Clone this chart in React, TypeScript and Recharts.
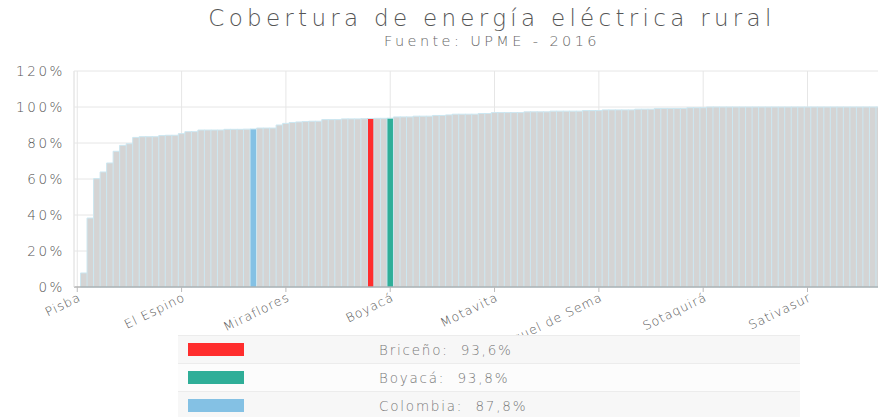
import { BarChart, Bar, Cell, XAxis, YAxis, CartesianGrid } from "recharts";

// Cobertura rural por municipio (%), ordenada de menor a mayor; incluye Boyacá y Colombia
const COVERAGE = [
  0, 7.8, 38.3, 60.2, 63.9, 68.9, 75.4, 78.7, 79.6, 83.1,
  83.5, 83.5, 83.5, 84.1, 84.3, 84.3, 85.2, 86.3, 86.3, 87.2,
  87.2, 87.2, 87.2, 87.6, 87.6, 87.6, 87.7, 87.8, 88.3, 88.3,
  88.3, 90.0, 90.9, 91.4, 91.7, 91.9, 92.1, 92.1, 93.0, 93.0,
  93.0, 93.4, 93.4, 93.4, 93.5, 93.6, 93.7, 93.7, 93.8, 94.5,
  94.5, 94.5, 94.9, 94.9, 94.9, 95.3, 95.3, 95.6, 96.0, 96.0,
  96.0, 96.0, 96.4, 96.4, 96.9, 96.9, 96.9, 96.9, 96.9, 97.3,
  97.3, 97.3, 97.3, 97.7, 97.7, 97.7, 97.7, 97.7, 98.0, 98.0,
  98.0, 98.4, 98.4, 98.4, 98.4, 98.4, 98.8, 98.8, 98.8, 99.2,
  99.2, 99.2, 99.2, 99.2, 99.6, 99.6, 99.6, 100, 100, 100,
  100, 100, 100, 100, 100, 100, 100, 100, 100, 100,
  100, 100, 100, 100, 100, 100, 100, 100, 100, 100,
  100, 100, 100, 100, 100,
];

// etiquetas visibles, una cada 16 categorías
const TICK_NAMES = [
  "Pisba",
  "El Espino",
  "Miraflores",
  "Boyacá",
  "Motavita",
  "San Miguel de Sema",
  "Sotaquirá",
  "Sativasur",
];
const TICK_STEP = 16;

const HIGHLIGHT_INDEX = [45, 48, 27];
const HIGHLIGHT_NAMES = ["Briceño", "Boyacá", "Colombia"];
const HIGHLIGHT_VALUES = ["93,6%", "93,8%", "87,8%"];
const HIGHLIGHT_COLORS = ["#ff2d2d", "#2fae98", "#84c1e4"];

const Y_TICKS = [0, 20, 40, 60, 80, 100, 120];

const FONT = "'DejaVu Sans', sans-serif";

const data = COVERAGE.map((value, i) => ({
  name: i % TICK_STEP === 0 ? TICK_NAMES[i / TICK_STEP] : `m${i}`,
  value,
}));

function XTick({ x, y, payload }: any) {
  return (
    <g transform={`translate(${x + 1},${y - 1}) rotate(-26)`}>
      <text
        x={0}
        y={8}
        textAnchor="end"
        fontSize={12.5}
        fill="#555"
        fontFamily={FONT}
        fontWeight={200}
        letterSpacing={1}
      >
        {payload.value}
      </text>
    </g>
  );
}

export default function App() {
  return (
    <div
      style={{
        position: "absolute",
        left: 0,
        top: 0,
        width: 878,
        height: 417,
        overflow: "hidden",
        background: "#fff",
        fontFamily: FONT,
      }}
    >
      <div
        style={{
          position: "absolute",
          top: 5,
          left: 0,
          width: 984,
          textAlign: "center",
          fontSize: 23,
          letterSpacing: 4.3,
          color: "#555",
          fontWeight: 200,
        }}
      >
        Cobertura de energía eléctrica rural
      </div>
      <div
        style={{
          position: "absolute",
          top: 33,
          left: 0,
          width: 984,
          textAlign: "center",
          fontSize: 14.5,
          letterSpacing: 3.4,
          color: "#666",
          fontWeight: 200,
        }}
      >
        Fuente: UPME - 2016
      </div>

      <div style={{ position: "absolute", left: 0, top: 0 }}>
        <BarChart
          width={889}
          height={417}
          data={data}
          margin={{ top: 71, right: 0, bottom: 70, left: 0 }}
          barCategoryGap={0}
        >
          <CartesianGrid stroke="#e6e6e6" />
          <XAxis
            dataKey="name"
            interval={TICK_STEP - 1}
            height={60}
            tickSize={5}
            tickMargin={2}
            tick={<XTick />}
            axisLine={{ stroke: "#999" }}
            tickLine={{ stroke: "#bbb" }}
          />
          <YAxis
            width={74}
            domain={[0, 120]}
            ticks={Y_TICKS}
            tickFormatter={(v) => `${v}%`}
            tickSize={0}
            tickMargin={9}
            axisLine={{ stroke: "#e6e6e6" }}
            tick={{ fontSize: 13.5, fill: "#555", fontFamily: FONT, fontWeight: 200, letterSpacing: 2.6 } as any}
          />
          <Bar
            dataKey="value"
            isAnimationActive={false}
            fill="#d4d4d4"
            stroke="#cce7f1"
            strokeWidth={1}
          >
            {data.map((_, i) => {
              const h = HIGHLIGHT_INDEX.indexOf(i);
              return <Cell key={`cell-${i}`} fill={h >= 0 ? HIGHLIGHT_COLORS[h] : "#d4d4d4"} />;
            })}
          </Bar>
        </BarChart>
      </div>

      <div
        style={{
          position: "absolute",
          left: 178,
          top: 335,
          width: 622,
          fontSize: 13.5,
          color: "#777",
          letterSpacing: 1.8,
          fontWeight: 200,
        }}
      >
        {HIGHLIGHT_NAMES.map((name, i) => (
          <div
            key={name}
            style={{
              height: 27,
              borderTop: "1px solid #ececec",
              background: i === 1 ? "#fcfcfc" : "#f7f7f7",
              display: "flex",
              alignItems: "center",
            }}
          >
            <div
              style={{
                width: 56,
                height: 13,
                marginLeft: 10,
                background: HIGHLIGHT_COLORS[i],
              }}
            />
            <div style={{ marginLeft: 135 }}>
              {name}:&nbsp;&nbsp;{HIGHLIGHT_VALUES[i]}
            </div>
          </div>
        ))}
      </div>
    </div>
  );
}
